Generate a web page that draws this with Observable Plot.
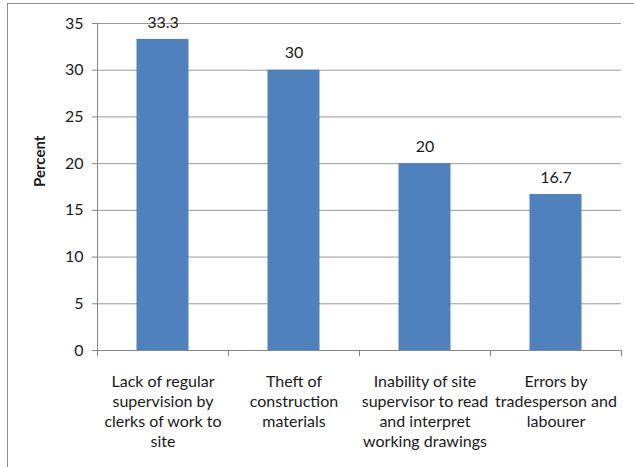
<!DOCTYPE html>
<html>
<head>
<meta charset="utf-8">
<script src="https://cdn.jsdelivr.net/npm/d3@7"></script>
<script src="https://cdn.jsdelivr.net/npm/@observablehq/plot@0.6"></script>
<style>
  html, body { margin: 0; padding: 0; background: #fff; }
  #wrap { position: relative; width: 634px; height: 467px; overflow: hidden; }
  #border { position: absolute; left: 7px; top: 3px; width: 700px; height: 600px; border: 1.5px solid #8c8c8c; box-sizing: border-box; pointer-events: none; }
  svg { font-family: Lato, "Open Sans", sans-serif; }
</style>
</head>
<body>
<div id="wrap"><div id="chart"></div><div id="border"></div></div>
<script>
const categories = [
  "Lack of regular\nsupervision by\nclerks of work to\nsite",
  "Theft of\nconstruction\nmaterials",
  "Inability of site\nsupervisor to read\nand interpret\nworking drawings",
  "Errors by\ntradesperson and\nlabourer"
];
const values = [33.3, 30, 20, 16.7];
const valueLabels = ["33.3", "30", "20", "16.7"];
const yTicks = [0, 5, 10, 15, 20, 25, 30, 35];
const yTitle = "Percent";

const data = categories.map((c, i) => ({cat: c, value: values[i], label: valueLabels[i]}));

const W = 634, H = 467;
const mL = 97, mR = 13, mT = 23, mB = 117;
const band = (W - mL - mR) / categories.length;
const barW = 52;
const inset = (band - barW) / 2;
const gridColor = "#9a9a9a";
const axisColor = "#868686";
const fs = 16;

const chart = Plot.plot({
  width: W,
  height: H,
  marginLeft: mL,
  marginRight: mR,
  marginTop: mT,
  marginBottom: mB,
  style: {fontFamily: "Lato, 'Open Sans', sans-serif", fontSize: fs + "px", color: "#1a1a1a", background: "transparent"},
  x: {domain: categories, padding: 0, label: null},
  y: {domain: [0, 35], label: null},
  marks: [
    Plot.gridY(yTicks, {stroke: gridColor, strokeOpacity: 1, strokeWidth: 1}),
    Plot.barY(data, {x: "cat", y: "value", fill: "#4f81bd", insetLeft: inset, insetRight: inset}),
    Plot.text(data, {x: "cat", y: "value", text: "label", dy: -17, fontSize: fs, fill: "#1a1a1a"}),
    Plot.ruleY([0], {stroke: axisColor, strokeWidth: 1}),
    Plot.ruleX([categories[0]], {dx: -band / 2, y1: 0, y2: 35, stroke: axisColor}),
    Plot.axisX({ticks: categories, tickSize: 6, tickFormat: null, dx: -band / 2, stroke: axisColor}),
    Plot.axisX({ticks: [categories[categories.length - 1]], tickSize: 6, tickFormat: null, dx: band / 2, stroke: axisColor}),
    Plot.axisX({tickSize: 0, tickPadding: 22, lineHeight: 1.25, fontSize: fs, fill: "#1a1a1a", label: null, textAnchor: "middle"}),
    Plot.axisY({ticks: yTicks, tickSize: 5, tickPadding: 9, stroke: axisColor, fontSize: fs, fill: "#1a1a1a", label: null}),
    Plot.text([yTitle], {frameAnchor: "left", dx: -57, rotate: -90, fontWeight: "bold", fontSize: 15, fill: "#1a1a1a"})
  ]
});
document.getElementById("chart").appendChild(chart);
</script>
</body>
</html>
